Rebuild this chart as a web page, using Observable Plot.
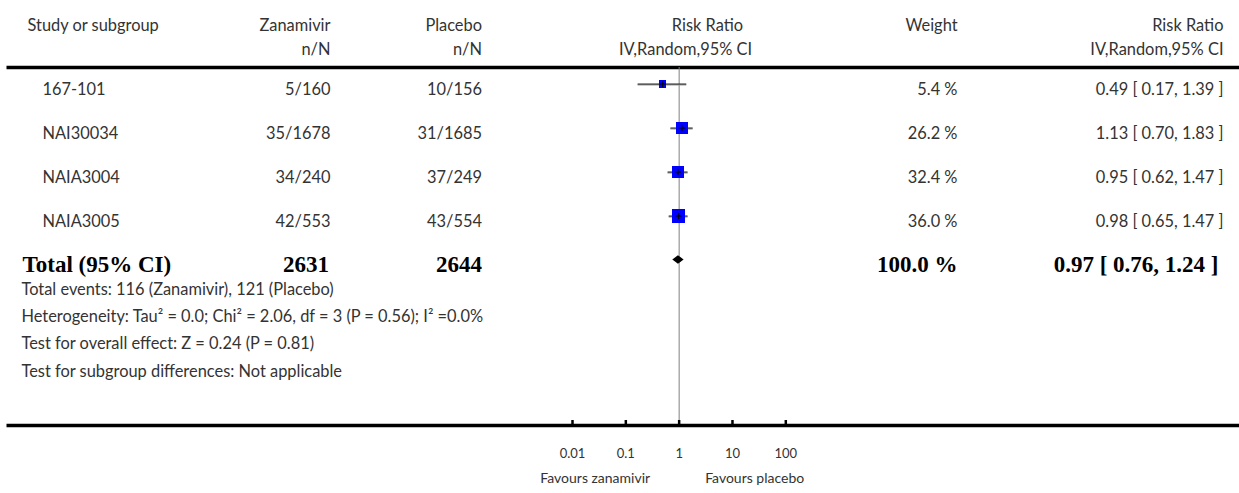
<!DOCTYPE html>
<html><head><meta charset="utf-8">
<script src="https://cdn.jsdelivr.net/npm/d3@7"></script>
<script src="https://cdn.jsdelivr.net/npm/@observablehq/plot@0.6"></script>
<style>body{margin:0;background:#fff}</style>
</head><body><div id="chart"></div>
<script>
// ---- data ----
const studies   = ["167-101", "NAI30034", "NAIA3004", "NAIA3005"];
const zanamivir = ["5/160", "35/1678", "34/240", "42/553"];
const placebo   = ["10/156", "31/1685", "37/249", "43/554"];
const rr        = [0.49, 1.13, 0.95, 0.98];
const lower     = [0.17, 0.70, 0.62, 0.65];
const upper     = [1.39, 1.83, 1.47, 1.47];
const weight    = [5.4, 26.2, 32.4, 36.0];
const totalLabel = ["Total (95% CI)"];
const totalZan = ["2631"];
const totalPla = ["2644"];
const totalRR = [0.97], totalLower = [0.76], totalUpper = [1.24], totalWeight = [100.0];
const footnotes = [
  "Total events: 116 (Zanamivir), 121 (Placebo)",
  "Heterogeneity: Tau\u00b2 = 0.0; Chi\u00b2 = 2.06, df = 3 (P = 0.56); I\u00b2 =0.0%",
  "Test for overall effect: Z = 0.24 (P = 0.81)",
  "Test for subgroup differences: Not applicable"
];
const headTop = ["Study or subgroup", "Zanamivir", "Placebo", "Risk Ratio", "Weight", "Risk Ratio"];
const headSub = ["", "n/N", "n/N", "IV,Random,95% CI", "", "IV,Random,95% CI"];
const tickValues = [0.01, 0.1, 1, 10, 100];
const tickLabels = ["0.01", "0.1", "1", "10", "100"];
const favours = ["Favours zanamivir", "Favours placebo"];

// ---- layout ----
const W = 1239, H = 493, mL = 6, mR = 0, mT = 67, mB = 68;
const sans = "Lato, 'Open Sans', sans-serif";
const serif = "'Liberation Serif', 'Times New Roman', serif";
const fs = 16.4, fsBold = 23;
const ink = "#333";
const f2 = d3.format(".2f"), f1 = d3.format(".1f");
const ciText = (m, l, u) => `${f2(m)} [ ${f2(l)}, ${f2(u)} ]`;

const idx = studies.map((_, i) => i);
const totalRow = studies.length;

// column text helper: x positions are absolute SVG pixel columns
function col(data, text, x, anchor, opts = {}) {
  return Plot.text(data, {
    text, frameAnchor: "left", dx: x - mL, textAnchor: anchor,
    fontFamily: sans, fontSize: fs, fill: ink, ...opts
  });
}
function head(str, x, anchor, yPix) {
  return Plot.text([str], {
    text: d => d, frameAnchor: "top-left", dx: x - mL, dy: yPix - mT,
    textAnchor: anchor, fontFamily: sans, fontSize: fs, fill: ink
  });
}
const rowY = {y: (d, i) => i, dy: 5.5};
const totY = {y: () => totalRow, dy: 4.5};
const bold = {fontFamily: serif, fontWeight: "bold", fontSize: fsBold, fill: "#000"};

const diamond = [
  {x: totalLower[0], y1: totalRow, y2: totalRow},
  {x: totalRR[0], y1: totalRow - 0.095, y2: totalRow + 0.095},
  {x: totalUpper[0], y1: totalRow, y2: totalRow}
];

const fw = W - mL - mR, fh = H - mT - mB;

const chart = Plot.plot({
  width: W, height: H,
  marginLeft: mL, marginRight: mR, marginTop: mT, marginBottom: mB,
  style: {background: "#fff"},
  x: {type: "log", domain: [0.01, 100], range: [572, 785.3]},
  y: {type: "linear", domain: [0, totalRow], range: [83.5, 259.5], axis: null},
  r: {type: "linear", domain: [5.4, 36], range: [3.95, 7.35]},
  marks: [
    // top rule + axis line (top and bottom edges of the frame only)
    Plot.frame({stroke: "#000", strokeWidth: 3.5, strokeDasharray: `${fw} ${fh}`}),
    Plot.ruleX([1], {stroke: "#808080", strokeWidth: 1}),
    // headers
    head(headTop[0], 27, "start", 19),
    head(headTop[1], 330, "end", 19),
    head(headTop[2], 481.5, "end", 19),
    head(headTop[3], 707, "middle", 19),
    head(headTop[4], 931, "middle", 19),
    head(headTop[5], 1223, "end", 19),
    head(headSub[1], 330, "end", 43),
    head(headSub[2], 481.5, "end", 43),
    head(headSub[3], 685, "middle", 43),
    head(headSub[5], 1223, "end", 43),
    // study rows
    col(studies, d => d, 42, "start", rowY),
    col(zanamivir, d => d, 330, "end", rowY),
    col(placebo, d => d, 481.5, "end", rowY),
    col(weight, d => `${f1(d)} %`, 957, "end", rowY),
    col(idx, i => ciText(rr[i], lower[i], upper[i]), 1223, "end", rowY),
    // total row
    col(totalLabel, d => d, 22, "start", {...totY, ...bold}),
    col(totalZan, d => d, 328.5, "end", {...totY, ...bold}),
    col(totalPla, d => d, 481.5, "end", {...totY, ...bold}),
    col(totalWeight, d => `${f1(d)} %`, 957, "end", {...totY, ...bold}),
    col([0], () => ciText(totalRR[0], totalLower[0], totalUpper[0]), 1218, "end", {...totY, ...bold}),
    // footnotes
    Plot.text([footnotes.join("\n")], {
      text: d => d, frameAnchor: "top-left", dx: 21 - mL, dy: 275 - mT,
      lineAnchor: "top", lineHeight: 27.3 / fs, textAnchor: "start",
      fontFamily: sans, fontSize: fs, fill: ink
    }),
    // confidence intervals
    Plot.ruleY(idx, {y: i => i, x1: i => lower[i], x2: i => upper[i], stroke: "#999", strokeWidth: 1.5, dy: 0.8}),
    Plot.ruleY(idx, {y: i => i, x1: i => lower[i], x2: i => upper[i], stroke: "#222", strokeWidth: 1}),
    Plot.dot(idx, {x: i => rr[i], y: i => i, r: i => weight[i], symbol: "square", fill: "#0000ff", shapeRendering: "crispEdges"}),
    Plot.dot(idx, {x: i => rr[i], y: i => i, r: 2.2, symbol: "plus", stroke: "#000", strokeWidth: 1}),
    // pooled estimate
    Plot.areaY(diamond, {x: "x", y1: "y1", y2: "y2", fill: "#000", curve: "linear"}),
    // axis
    Plot.axisX({ticks: tickValues, tickSize: 5, dy: -5, tickFormat: () => "", strokeWidth: 2.5, stroke: "#000", label: null}),
    Plot.axisX({ticks: tickValues, tickSize: 0, tickPadding: 23, tickFormat: d => tickLabels[tickValues.indexOf(d)],
      fontFamily: sans, fontSize: 13, fill: ink, label: null}),
    Plot.text([favours[0]], {x: () => 1, text: d => d, frameAnchor: "bottom", dy: 57.5, dx: -29, textAnchor: "end",
      fontFamily: sans, fontSize: 14, fill: ink}),
    Plot.text([favours[1]], {x: () => 1, text: d => d, frameAnchor: "bottom", dy: 57.5, dx: 26, textAnchor: "start",
      fontFamily: sans, fontSize: 14, fill: ink})
  ]
});
document.getElementById("chart").appendChild(chart);
</script>
</body></html>
